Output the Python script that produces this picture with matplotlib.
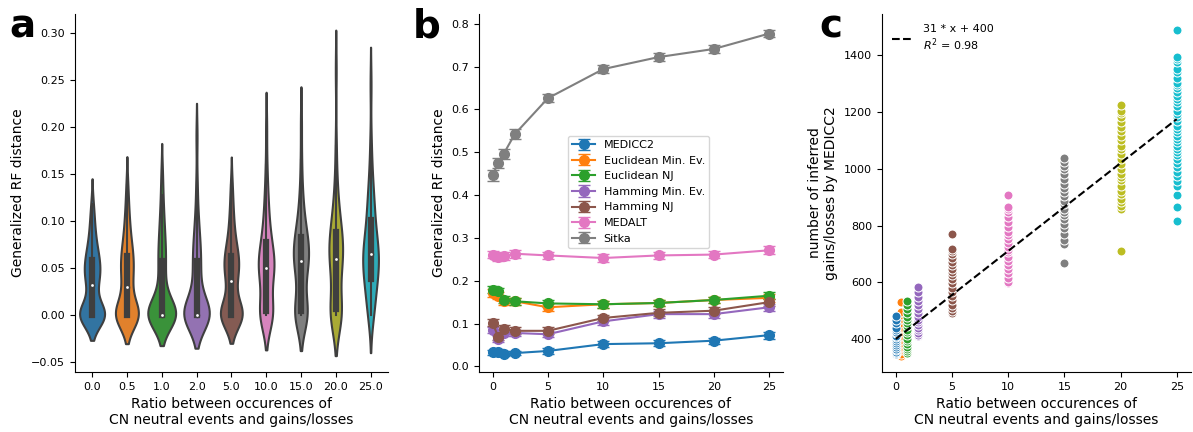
import colorsys
import numpy as np
import matplotlib
matplotlib.use("Agg")
import matplotlib.pyplot as plt
from matplotlib.colors import to_rgb

plt.rcParams["font.size"] = 8
plt.rcParams["axes.labelsize"] = 10

# ratio of CN-neutral events to gains/losses used in the simulations
ratios = [0, 0.5, 1, 2, 5, 10, 15, 20, 25]
ratio_labels = ["0.0", "0.5", "1.0", "2.0", "5.0", "10.0", "15.0", "20.0", "25.0"]
# tab10 without the red
colors = ["#1f77b4", "#ff7f0e", "#2ca02c", "#9467bd", "#8c564b",
          "#e377c2", "#7f7f7f", "#bcbd22", "#17becf"]

# ---- a: generalized RF distance of MEDICC2 trees per ratio
rf_0 = [0] * 17 + [0.012, 0.024, 0.031, 0.033, 0.036, 0.039, 0.042, 0.045, 0.047,
                   0.049, 0.051, 0.053, 0.058, 0.061, 0.063, 0.066, 0.070, 0.075,
                   0.081, 0.088, 0.096, 0.105, 0.118]
rf_05 = [0] * 17 + [0.010, 0.020, 0.029, 0.031, 0.034, 0.038, 0.042, 0.046, 0.050,
                    0.053, 0.056, 0.059, 0.062, 0.065, 0.069, 0.073, 0.078, 0.084,
                    0.091, 0.099, 0.108, 0.120, 0.138]
rf_1 = [0] * 21 + [0.004, 0.008, 0.015, 0.022, 0.029, 0.036, 0.043, 0.050, 0.056,
                   0.061, 0.066, 0.072, 0.078, 0.085, 0.093, 0.102, 0.113, 0.128,
                   0.150]
rf_2 = [0] * 21 + [0.005, 0.011, 0.018, 0.025, 0.032, 0.039, 0.045, 0.051, 0.056,
                   0.060, 0.065, 0.070, 0.076, 0.083, 0.091, 0.100, 0.115, 0.140,
                   0.190]
rf_5 = [0] * 16 + [0.010, 0.020, 0.028, 0.034, 0.038, 0.041, 0.044, 0.047, 0.050,
                   0.053, 0.055, 0.057, 0.060, 0.062, 0.065, 0.068, 0.072, 0.077,
                   0.083, 0.090, 0.098, 0.108, 0.120, 0.138]
rf_10 = [0] * 10 + [0.006, 0.015, 0.025, 0.033, 0.039, 0.042, 0.044, 0.046, 0.048,
                    0.049, 0.051, 0.053, 0.055, 0.058, 0.060, 0.062, 0.065, 0.068,
                    0.071, 0.077, 0.081, 0.085, 0.091, 0.098, 0.106, 0.115, 0.125,
                    0.138, 0.160, 0.200]
rf_15 = [0] * 10 + [0.006, 0.015, 0.025, 0.034, 0.041, 0.046, 0.050, 0.053, 0.055,
                    0.056, 0.058, 0.060, 0.063, 0.066, 0.069, 0.071, 0.074, 0.077,
                    0.080, 0.082, 0.084, 0.088, 0.093, 0.099, 0.106, 0.114, 0.124,
                    0.138, 0.165, 0.205]
rf_20 = [0] * 10 + [0.008, 0.018, 0.028, 0.036, 0.043, 0.048, 0.052, 0.055, 0.058,
                    0.059, 0.061, 0.064, 0.067, 0.070, 0.073, 0.076, 0.079, 0.082,
                    0.085, 0.088, 0.091, 0.095, 0.100, 0.106, 0.113, 0.122, 0.133,
                    0.148, 0.180, 0.260]
rf_25 = [0] * 3 + [0.008, 0.016, 0.022, 0.027, 0.031, 0.035, 0.037, 0.039, 0.042,
                   0.046, 0.049, 0.052, 0.055, 0.058, 0.060, 0.062, 0.064, 0.066,
                   0.068, 0.071, 0.074, 0.077, 0.080, 0.084, 0.088, 0.093, 0.100,
                   0.105, 0.110, 0.115, 0.121, 0.128, 0.136, 0.146, 0.160, 0.185,
                   0.245]
rf_groups = [rf_0, rf_05, rf_1, rf_2, rf_5, rf_10, rf_15, rf_20, rf_25]

# ---- b: mean RF distance (+- sem) per method
methods = ["MEDICC2", "Euclidean Min. Ev.", "Euclidean NJ", "Hamming Min. Ev.",
           "Hamming NJ", "MEDALT", "Sitka"]
rf_mean = {
    "MEDICC2": [0.033, 0.034, 0.030, 0.031, 0.036, 0.052, 0.054, 0.060, 0.073],
    "Euclidean Min. Ev.": [0.172, 0.165, 0.152, 0.152, 0.138, 0.145, 0.148, 0.155, 0.160],
    "Euclidean NJ": [0.179, 0.175, 0.156, 0.152, 0.147, 0.145, 0.148, 0.155, 0.165],
    "Hamming Min. Ev.": [0.085, 0.065, 0.077, 0.078, 0.075, 0.105, 0.122, 0.122, 0.138],
    "Hamming NJ": [0.102, 0.069, 0.088, 0.083, 0.083, 0.113, 0.125, 0.130, 0.150],
    "MEDALT": [0.261, 0.256, 0.257, 0.263, 0.259, 0.253, 0.259, 0.261, 0.271],
    "Sitka": [0.446, 0.475, 0.496, 0.542, 0.626, 0.694, 0.722, 0.741, 0.777],
}
rf_err = {
    "MEDICC2": [0.006, 0.006, 0.005, 0.005, 0.006, 0.007, 0.007, 0.007, 0.008],
    "Euclidean Min. Ev.": [0.009, 0.008, 0.008, 0.008, 0.008, 0.008, 0.008, 0.008, 0.009],
    "Euclidean NJ": [0.008, 0.008, 0.008, 0.008, 0.008, 0.008, 0.008, 0.008, 0.008],
    "Hamming Min. Ev.": [0.008, 0.007, 0.007, 0.007, 0.007, 0.008, 0.008, 0.008, 0.008],
    "Hamming NJ": [0.008, 0.008, 0.008, 0.008, 0.008, 0.008, 0.008, 0.008, 0.008],
    "MEDALT": [0.009, 0.009, 0.009, 0.009, 0.009, 0.009, 0.009, 0.009, 0.009],
    "Sitka": [0.013, 0.012, 0.012, 0.011, 0.010, 0.009, 0.009, 0.009, 0.008],
}

# ---- c: number of inferred gains/losses per simulated tree
gl_0 = [346, 350, 355, 361, 366, 372, 379, 385, 392, 400, 406, 412, 420, 426,
        433, 440, 455, 468, 482]
gl_05 = [341, 348, 360, 372, 385, 398, 410, 425, 440, 455, 470, 485, 495, 530]
gl_1 = [350, 356, 364, 373, 382, 391, 400, 414, 423, 432, 444, 455, 466, 478,
        492, 505, 520, 533]
gl_2 = [410, 414, 422, 430, 437, 448, 458, 467, 478, 490, 505, 519, 534, 549,
        566, 583]
gl_5 = [490, 500, 508, 520, 537, 550, 566, 580, 596, 610, 625, 636, 648, 660,
        672, 685, 701, 710, 718, 771]
gl_10 = [597, 601, 615, 631, 645, 660, 675, 689, 705, 715, 724, 740, 754, 765,
         777, 795, 812, 830, 847, 858, 865, 906]
gl_15 = [668, 736, 750, 771, 790, 806, 822, 836, 848, 859, 875, 888, 905, 918,
         932, 947, 965, 982, 998, 1011, 1025, 1037]
gl_20 = [709, 859, 870, 884, 894, 910, 923, 940, 959, 970, 982, 1000, 1017,
         1035, 1052, 1068, 1081, 1100, 1117, 1132, 1146, 1165, 1181, 1195, 1204,
         1224]
gl_25 = [815, 865, 906, 941, 958, 976, 990, 1005, 1020, 1035, 1047, 1058, 1070,
         1081, 1093, 1105, 1117, 1128, 1140, 1152, 1168, 1181, 1193, 1204, 1220,
         1234, 1245, 1257, 1272, 1286, 1295, 1304, 1321, 1340, 1353, 1375, 1386,
         1395, 1489]
gl_groups = [gl_0, gl_05, gl_1, gl_2, gl_5, gl_10, gl_15, gl_20, gl_25]
fit_slope, fit_intercept, fit_r2 = 31, 400, 0.98

xlabel = "Ratio between occurences of\nCN neutral events and gains/losses"
gray = "#3f3f3f"


def desaturate(color, prop=0.75):
    h, l, s = colorsys.rgb_to_hls(*to_rgb(color))
    return colorsys.hls_to_rgb(h, l, s * prop)


def kde(vals, adjust=0.8, cut=2, gridsize=100):
    # gaussian kde with scott's bandwidth, extended cut*bw past the data
    v = np.asarray(vals, float)
    bw = v.std(ddof=1) * len(v) ** (-1 / 5) * adjust
    grid = np.linspace(v.min() - cut * bw, v.max() + cut * bw, gridsize)
    dens = np.exp(-0.5 * ((grid[:, None] - v[None, :]) / bw) ** 2).sum(axis=1)
    dens /= len(v) * bw * np.sqrt(2 * np.pi)
    return grid, dens


fig = plt.figure(figsize=(11.93, 4.32), dpi=100)
ax_a = fig.add_axes([0.0626, 0.139, 0.2626, 0.829])
ax_b = fig.add_axes([0.4013, 0.139, 0.2551, 0.829])
ax_c = fig.add_axes([0.7391, 0.139, 0.2590, 0.829])

# a: violins (equal area, widest one spans 0.8)
curves = [kde(g) for g in rf_groups]
max_dens = max(d.max() for _, d in curves)
for i, ((grid, dens), vals, c) in enumerate(zip(curves, rf_groups, colors)):
    half = dens / max_dens * 0.4
    ax_a.fill_betweenx(grid, i - half, i + half, facecolor=desaturate(c),
                       edgecolor=gray, lw=1.5, zorder=1)
    v = np.asarray(vals)
    q1, med, q3 = np.percentile(v, [25, 50, 75])
    iqr = q3 - q1
    lo = v[v >= q1 - 1.5 * iqr].min()
    hi = v[v <= q3 + 1.5 * iqr].max()
    ax_a.plot([i, i], [lo, hi], color=gray, lw=1.5, zorder=2)
    ax_a.plot([i, i], [q1, q3], color=gray, lw=4.5, zorder=2)
    ax_a.scatter(i, med, s=9, color="white", edgecolor=gray, zorder=3)
ax_a.set_xticks(range(len(ratio_labels)))
ax_a.set_xticklabels(ratio_labels)
ax_a.set_xlim(-0.5, len(ratio_labels) - 0.5)
ax_a.set_xlabel(xlabel)
ax_a.set_ylabel("Generalized RF distance")

# b: mean distance per method
for m, c in zip(methods, colors):
    ax_b.errorbar(ratios, rf_mean[m], yerr=rf_err[m], color=c, marker="o",
                  markersize=7, lw=1.5, capsize=4, label=m)
ax_b.legend(loc="upper left", bbox_to_anchor=(0.275, 0.675))
ax_b.set_xticks([0, 5, 10, 15, 20, 25])
ax_b.set_xlabel(xlabel)
ax_b.set_ylabel("Generalized RF distance")

# c: number of events vs ratio with linear fit
order = [1, 0, 2, 3, 4, 5, 6, 7, 8]
for k in order:
    ax_c.scatter([ratios[k]] * len(gl_groups[k]), gl_groups[k], s=42,
                 color=colors[k], edgecolor="white", linewidth=0.75, zorder=2)
fit_x = np.array([ratios[0], ratios[-1]])
ax_c.plot(fit_x, fit_slope * fit_x + fit_intercept, "--", color="black", lw=1.5,
          zorder=3,
          label=f"{fit_slope} * x + {fit_intercept}\n$R^2$ = {fit_r2:.2f}")
ax_c.legend(loc="upper left", frameon=False)
ax_c.set_xticks([0, 5, 10, 15, 20, 25])
ax_c.set_xlabel(xlabel)
ax_c.set_ylabel("number of inferred\ngains/losses by MEDICC2")

for ax in (ax_a, ax_b, ax_c):
    ax.spines["top"].set_visible(False)
    ax.spines["right"].set_visible(False)

for letter, x in zip("abc", [0.008, 0.346, 0.687]):
    fig.text(x, 0.914, letter, fontsize=28, fontweight="bold", va="baseline")

fig.savefig("out.png", dpi=100)
